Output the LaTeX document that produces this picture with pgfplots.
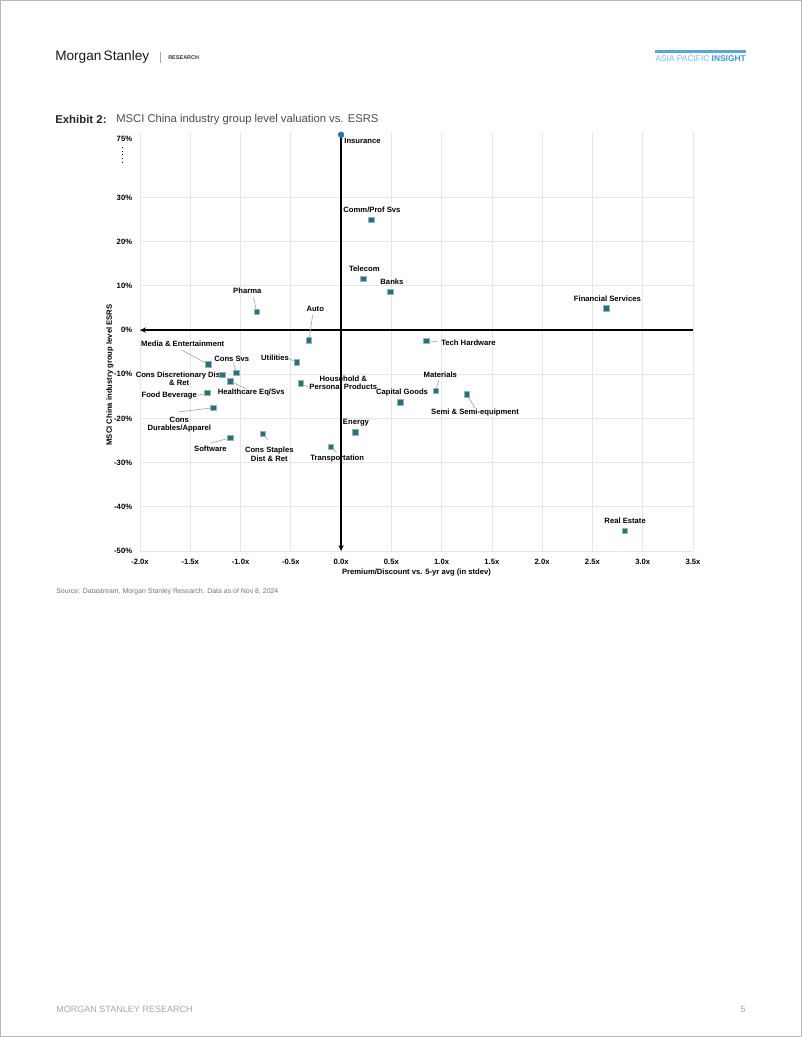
\documentclass[border=0pt]{standalone}
\usepackage{fontspec}
\setmainfont{Liberation Sans}
\usepackage{pgfplots}
\pgfplotsset{compat=1.18}
\usepackage{pgfplotstable}
\usetikzlibrary{arrows.meta}

\definecolor{msteal}{HTML}{2F6E74}
\definecolor{msedge}{HTML}{8DB8BB}
\definecolor{msblue}{HTML}{2A72B8}
\definecolor{insight}{HTML}{3E96D6}
\definecolor{insightlt}{HTML}{7DB9E6}
\definecolor{gridgray}{HTML}{E6E6E6}
\definecolor{leader}{HTML}{A8A8A8}

% industry groups: premium/discount (stdev) vs ESRS (%)
\pgfplotstableread{
x     y
0.30  25.0
0.22  11.6
0.49  8.7
2.64  4.9
-0.84 4.1
-0.32 -2.3
0.85  -2.4
-1.32 -7.8
-0.44 -7.3
-1.04 -9.7
-1.18 -10.1
-1.10 -11.6
-0.40 -12.1
0.94  -13.7
1.25  -14.6
-1.33 -14.2
0.59  -16.4
-1.27 -17.6
0.14  -23.2
-1.10 -24.4
-0.78 -23.5
-0.10 -26.4
2.82  -45.4
}\groups
% insurance sits above the axis break
\pgfplotstableread{
x     y
0.00  75
}\insurance

\newcommand{\lbl}{\fontsize{5.85}{6.6}\selectfont\bfseries}

\begin{document}
\begin{tikzpicture}
\useasboundingbox (0,0) rectangle (612pt,791.32pt);

% page furniture, in pixel units measured from the top left
\begin{scope}[x=0.76309pt,y=-0.76309pt,yshift=791.32pt]
  \draw[gray!55,line width=0.7pt] (0.5,0.5) rectangle (801.5,1036.5);
  \node[anchor=west,inner sep=0,font=\fontsize{10.4}{12}\selectfont,text=black!90] at (55,57) {Morgan\,Stanley};
  \draw[gray!70,line width=0.4pt] (160,52) -- (160,63);
  \node[anchor=west,inner sep=0,font=\fontsize{4.2}{5}\selectfont\bfseries,text=black!80] at (168,58) {RESEARCH};
  \draw[insight!85,line width=2pt] (655,51.5) -- (746,51.5);
  \node[anchor=east,inner sep=0,font=\fontsize{6.4}{7}\selectfont] at (746,58.5)
    {\textcolor{insightlt}{ASIA PACIFIC} \textcolor{insight}{\bfseries INSIGHT}};
  \node[anchor=west,inner sep=0,font=\fontsize{8.7}{10}\selectfont\bfseries,text=black!85] at (55,119.5) {Exhibit 2:};
  \node[anchor=west,inner sep=0,font=\fontsize{8.6}{10}\selectfont,text=black!70] at (116,119.5) {MSCI China industry group level valuation vs. ESRS};
  \node[anchor=west,inner sep=0,font=\fontsize{5.3}{6}\selectfont,text=black!55] at (56,592) {Source: Datastream, Morgan Stanley Research. Data as of Nov 8, 2024};
  \node[anchor=west,inner sep=0,font=\fontsize{6.9}{8}\selectfont,text=black!35] at (56,1009) {MORGAN STANLEY RESEARCH};
  \node[anchor=east,inner sep=0,font=\fontsize{6.9}{8}\selectfont,text=black!35] at (746,1009) {5};
  \draw[dotted,line width=0.8pt] (122.7,147) -- (122.7,162);
  \node[rotate=90,inner sep=0,font=\lbl] at (110,375) {MSCI China industry group level ESRS};
\end{scope}

\begin{axis}[
  at={(106.83pt,370.86pt)}, anchor=south west,
  scale only axis, width=421.99pt, height=319.73pt,
  clip=false,
  xmin=-2.0, xmax=3.5, ymin=-50, ymax=77,
  y coord trafo/.code={\pgfmathparse{ifthenelse(#1>30,30+(#1-30)*0.31556,#1)}},
  y coord inv trafo/.code={\pgfmathparse{ifthenelse(#1>30,30+(#1-30)/0.31556,#1)}},
  xtick={-2,-1.5,...,3.5},
  xticklabels={-2.0x,-1.5x,-1.0x,-0.5x,0.0x,0.5x,1.0x,1.5x,2.0x,2.5x,3.0x,3.5x},
  ytick={-50,-40,-30,-20,-10,0,10,20,30},
  yticklabels={-50\%,-40\%,-30\%,-20\%,-10\%,0\%,10\%,20\%,30\%},
  extra y ticks={75}, extra y tick labels={75\%},
  extra y tick style={grid=none, yticklabel style={yshift=-3.5pt}},
  grid=major, major grid style={gridgray,line width=0.6pt},
  axis line style={draw=none}, tick style={draw=none},
  /pgf/number format/assume math mode=true,
  ticklabel style={font=\lbl},
  xticklabel style={yshift=-2.5pt},
  yticklabel style={xshift=-2.5pt},
  xlabel={Premium/Discount vs. 5-yr avg (in stdev)},
  xlabel style={font=\lbl, at={(axis description cs:0.5,-0.0525)}, anchor=center},
]
% axes through the origin
\draw[line width=1.1pt,-{Stealth[length=4.5pt,width=4pt]}] (axis cs:3.5,0) -- (axis cs:-2,0);
\draw[line width=1.1pt,-{Stealth[length=4.5pt,width=4pt]}] (axis cs:0,75) -- (axis cs:0,-50);

% leader lines
\begin{scope}[leader,line width=0.5pt]
\draw (axis cs:-0.87,7.4) -- (axis cs:-0.84,4.1);
\draw (axis cs:-0.282,3.46) -- (axis cs:-0.32,-2.3);
\draw (axis cs:-1.585,-4.5) -- (axis cs:-1.32,-7.8);
\draw (axis cs:-1.072,-7.33) -- (axis cs:-1.04,-9.7);
\draw (axis cs:-0.521,-6.43) -- (axis cs:-0.44,-7.3);
\draw (axis cs:-1.10,-11.6) -- (axis cs:-0.939,-13.35);
\draw (axis cs:-0.40,-12.1) -- (axis cs:-0.326,-12.9);
\draw (axis cs:-1.426,-14.8) -- (axis cs:-1.33,-14.2);
\draw (axis cs:-1.615,-18.5) -- (axis cs:-1.27,-17.6);
\draw (axis cs:-1.304,-25.6) -- (axis cs:-1.10,-24.4);
\draw (axis cs:-0.78,-23.5) -- (axis cs:-0.73,-24.8);
\draw (axis cs:-0.10,-26.4) -- (axis cs:-0.044,-27.7);
\draw (axis cs:0.85,-2.4) -- (axis cs:0.957,-2.65);
\draw (axis cs:0.974,-11.24) -- (axis cs:0.94,-13.7);
\draw (axis cs:1.25,-14.6) -- (axis cs:1.332,-17.65);
\end{scope}

\addplot[only marks, mark=square*, mark size=2.1pt,
  mark options={fill=msteal, draw=msedge, line width=0.5pt, rounded corners=0.5pt}]
  table[x=x,y=y] {\groups};
\addplot[only marks, mark=*, mark size=2.2pt, mark options={fill=msblue, draw=msblue}]
  table[x=x,y=y] {\insurance};

\begin{scope}[every node/.style={font=\lbl, inner sep=0, align=center}]
\node[anchor=west] at (axis cs:0.03,70.4) {Insurance};
\node at (axis cs:0.307,27.15) {Comm/Prof Svs};
\node at (axis cs:0.231,13.8) {Telecom};
\node at (axis cs:0.506,10.93) {Banks};
\node at (axis cs:2.649,7.15) {Financial Services};
\node at (axis cs:-0.933,8.89) {Pharma};
\node at (axis cs:-0.257,4.82) {Auto};
\node at (axis cs:-1.575,-3.1) {Media \& Entertainment};
\node at (axis cs:-1.087,-6.42) {Cons Svs};
\node at (axis cs:-0.657,-6.27) {Utilities};
\node at (axis cs:-1.61,-11.0) {Cons Discretionary Dist\\\& Ret};
\node at (axis cs:-0.893,-14.03) {Healthcare Eq/Svs};
\node at (axis cs:0.022,-11.9) {Household \&\\Personal Products};
\node at (axis cs:-1.709,-14.9) {Food Beverage};
\node at (axis cs:-1.609,-21.4) {Cons\\Durables/Apparel};
\node at (axis cs:-1.30,-26.8) {Software};
\node at (axis cs:-0.714,-28.1) {Cons Staples\\Dist \& Ret};
\node at (axis cs:-0.038,-29.05) {Transportation};
\node at (axis cs:0.148,-20.9) {Energy};
\node at (axis cs:1.267,-2.8) {Tech Hardware};
\node at (axis cs:0.987,-10.1) {Materials};
\node at (axis cs:0.606,-14.2) {Capital Goods};
\node at (axis cs:1.332,-18.7) {Semi \& Semi-equipment};
\node at (axis cs:2.825,-43.2) {Real Estate};
\end{scope}
\end{axis}
\end{tikzpicture}
\end{document}
